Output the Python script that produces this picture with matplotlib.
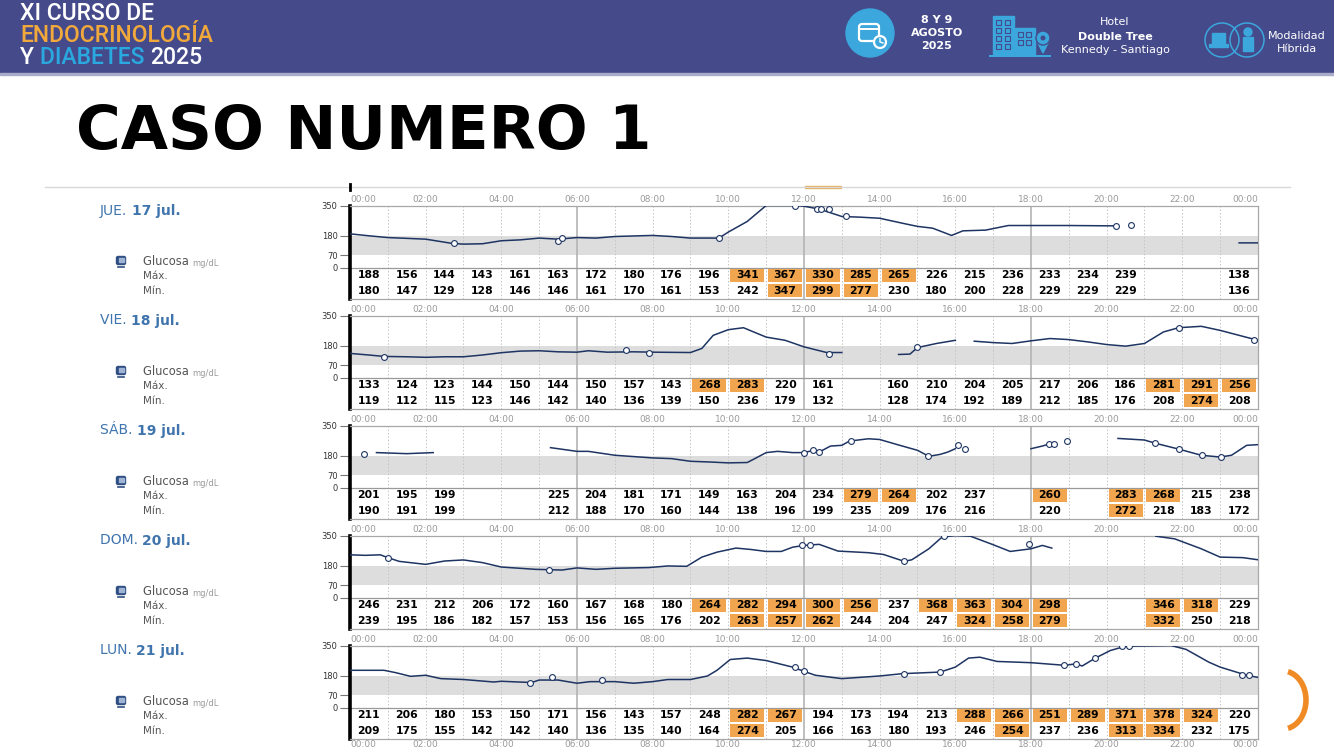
import numpy as np
import matplotlib
matplotlib.use("Agg")
import matplotlib.pyplot as plt
from matplotlib.patches import Rectangle, Circle, FancyBboxPatch, Arc, Polygon

nan = np.nan

# ---- data -------------------------------------------------------------------
days = ["JUE.", "VIE.", "SÁB.", "DOM.", "LUN."]
dates = ["17 jul.", "18 jul.", "19 jul.", "20 jul.", "21 jul."]
hour_labels = ["00:00", "02:00", "04:00", "06:00", "08:00", "10:00",
               "12:00", "14:00", "16:00", "18:00", "20:00", "22:00", "00:00"]
y_ticks = [0, 70, 180, 350]

jue_max = [188, 156, 144, 143, 161, 163, 172, 180, 176, 196, 341, 367,
           330, 285, 265, 226, 215, 236, 233, 234, 239, None, None, 138]
jue_min = [180, 147, 129, 128, 146, 146, 161, 170, 161, 153, 242, 347,
           299, 277, 230, 180, 200, 228, 229, 229, 229, None, None, 136]
vie_max = [133, 124, 123, 144, 150, 144, 150, 157, 143, 268, 283, 220,
           161, None, 160, 210, 204, 205, 217, 206, 186, 281, 291, 256]
vie_min = [119, 112, 115, 123, 146, 142, 140, 136, 139, 150, 236, 179,
           132, None, 128, 174, 192, 189, 212, 185, 176, 208, 274, 208]
sab_max = [201, 195, 199, None, None, 225, 204, 181, 171, 149, 163, 204,
           234, 279, 264, 202, 237, None, 260, None, 283, 268, 215, 238]
sab_min = [190, 191, 199, None, None, 212, 188, 170, 160, 144, 138, 196,
           199, 235, 209, 176, 216, None, 220, None, 272, 218, 183, 172]
dom_max = [246, 231, 212, 206, 172, 160, 167, 168, 180, 264, 282, 294,
           300, 256, 237, 368, 363, 304, 298, None, None, 346, 318, 229]
dom_min = [239, 195, 186, 182, 157, 153, 156, 165, 176, 202, 263, 257,
           262, 244, 204, 247, 324, 258, 279, None, None, 332, 250, 218]
lun_max = [211, 206, 180, 153, 150, 171, 156, 143, 157, 248, 282, 267,
           194, 173, 194, 213, 288, 266, 251, 289, 371, 378, 324, 220]
lun_min = [209, 175, 155, 142, 142, 140, 136, 135, 140, 164, 274, 205,
           166, 163, 180, 193, 246, 254, 237, 236, 313, 334, 232, 175]

# CGM traces (hour of day, mg/dL), nan = sensor gap
jue_h = [0, 0.5, 1, 2, 2.7, 3, 3.5, 4, 4.5, 5, 5.5, 6, 6.5, 7, 8, 8.5, 9, 9.75,
         10, 10.5, 11, 11.8, 12, 12.4, 13, 13.5, 14, 14.6, 15, 15.4, 15.9,
         16.2, 16.8, 17.4, 18, 19, 20.25, 20.3, 23.5, 24]
jue_v = [190, 179, 169, 160, 136, 132, 134, 151, 156, 166, 160, 169, 166, 175,
         181, 175, 166, 166, 200, 260, 350, 350, 346, 330, 288, 284, 278, 250,
         232, 222, 181, 207, 211, 237, 237, 237, 235, nan, 139, 139]
vie_h = [0, 0.5, 0.9, 1.5, 2, 2.5, 3, 3.5, 4, 4.5, 5, 5.5, 6, 6.3, 6.8, 7.5, 8,
         9, 9.3, 9.6, 10, 10.4, 11, 11.5, 12, 12.6, 13, 13.5, 14.5, 14.8, 15,
         15.5, 16, 16.2, 16.5, 17, 17.5, 18, 18.5, 19, 19.5, 20, 20.5, 21,
         21.5, 21.9, 22.5, 23, 23.5, 24]
vie_v = [136, 127, 119, 117, 114, 117, 117, 127, 140, 149, 151, 145, 143, 151,
         143, 145, 143, 141, 164, 238, 270, 281, 228, 210, 173, 141, 141, nan,
         130, 132, 169, 192, 210, nan, 205, 197, 192, 207, 220, 214, 201, 186,
         177, 192, 257, 281, 289, 266, 238, 210]
sab_h = [0.7, 1.5, 2.2, 3, 5.3, 6, 6.3, 7, 8, 8.5, 9, 9.5, 10, 10.5, 10.7, 11,
         11.3, 11.7, 12, 12.3, 12.4, 12.7, 13, 13.2, 13.7, 14, 14.5, 15, 15.3,
         15.6, 15.8, 16, 17, 18, 18.3, 18.5, 19.5, 20.3, 21, 21.3, 21.9, 22.5,
         23, 23.3, 23.7, 24]
sab_v = [197, 191, 197, nan, 225, 204, 204, 182, 167, 163, 148, 144, 139, 141,
         163, 197, 204, 197, 197, 212, 200, 234, 238, 262, 275, 271, 240, 210,
         176, 187, 200, 219, nan, 219, 234, 247, nan, 277, 268, 249, 217, 182,
         172, 182, 238, 242]
dom_h = [0, 0.4, 0.8, 1.0, 1.3, 2, 2.5, 3, 3.5, 4, 4.9, 5.6, 6, 6.5, 7, 7.9,
         8.4, 8.9, 9.3, 9.7, 10.2, 10.6, 11, 11.4, 11.7, 12, 12.4, 12.9, 13.7,
         14.1, 14.65, 14.85, 15.3, 15.65, 16, 16.4, 17, 17.45, 18, 18.3, 18.55,
         20, 21.3, 21.8, 22.5, 23, 23.6, 24]
dom_v = [241, 238, 241, 225, 204, 187, 206, 212, 197, 172, 159, 155, 167, 159,
         165, 169, 178, 176, 228, 256, 279, 271, 260, 260, 284, 294, 300, 262,
         253, 243, 204, 213, 275, 341, 350, 346, 298, 260, 275, 294, 279, nan,
         346, 331, 275, 228, 225, 213]
lun_h = [0, 0.9, 1.2, 1.6, 2, 2.4, 3, 3.8, 4, 4.8, 5.0, 5.5, 6, 6.35, 6.7, 7,
         7.5, 8, 8.4, 9, 9.45, 9.7, 10.05, 10.5, 11, 11.7, 12, 12.3, 13, 14,
         14.6, 15.6, 16, 16.35, 16.65, 17.1, 18, 18.9, 19.2, 19.35, 19.7, 20.1,
         20.5, 21.7, 22.1, 22.7, 23, 23.7, 24]
lun_v = [210, 210, 197, 176, 182, 163, 158, 144, 148, 141, 155, 155, 137, 146,
         146, 146, 137, 146, 158, 158, 178, 210, 271, 279, 265, 228, 204, 182,
         163, 178, 191, 200, 228, 279, 284, 260, 253, 238, 247, 234, 279, 322,
         346, 350, 328, 256, 228, 182, 170]

# sensor scan markers
jue_mh = [2.75, 5.5, 5.6, 9.75, 11.75, 12.35, 12.45, 12.65, 13.1, 20.25, 20.65]
jue_mv = [136, 151, 166, 166, 350, 330, 330, 330, 288, 235, 241]
vie_mh = [0.9, 7.3, 7.9, 12.65, 15.0, 21.9, 23.9]
vie_mv = [117, 158, 136, 132, 173, 281, 210]
sab_mh = [0.38, 12.0, 12.25, 12.4, 13.23, 15.28, 16.06, 16.25, 18.48, 18.6,
          18.95, 21.27, 21.9, 22.53, 23.03]
sab_mv = [187, 197, 212, 200, 262, 176, 238, 217, 247, 243, 264, 249, 217,
          182, 172]
dom_mh = [1.0, 5.25, 11.95, 12.15, 14.63, 15.7, 17.95]
dom_mv = [225, 155, 294, 294, 204, 346, 303]
lun_mh = [4.76, 5.35, 6.66, 11.75, 12.0, 14.63, 15.6, 18.88, 19.2, 19.7, 20.4,
          20.6, 23.57, 23.75]
lun_mv = [141, 170, 157, 228, 204, 191, 200, 238, 247, 279, 346, 350, 182, 182]

HIGH = 250  # cells above this are shaded orange

W, H = 1334, 750
NAVY = "#1e3462"
ORANGE = "#f0a54e"
BANNER = "#454a8a"
LIGHT_BLUE = "#3ba7dd"


def draw_banner(cv):
    cv.add_patch(Rectangle((0, 0), W, 73, color=BANNER, zorder=1))
    cv.add_patch(Rectangle((0, 73), W, 2, color="#a9acc8", zorder=1))
    font = dict(family=["Roboto", "DejaVu Sans"], fontsize=16.5,
                fontweight="medium", zorder=3)
    cv.text(20, 13.5, "XI CURSO DE", color="white", va="center", **font)
    cv.text(20, 35.5, "ENDOCRINOLOGÍA", color="#f2a93b", va="center", **font)
    t = cv.text(20, 57.5, "Y ", color="white", va="center", **font)
    t = cv.annotate("DIABETES ", xy=(1, 0), xycoords=t, color="#2aa9e0",
                    va="bottom", ha="left", **font)
    cv.annotate("2025", xy=(1, 0), xycoords=t, color="white",
                va="bottom", ha="left", **font)

    # calendar
    cv.add_patch(Circle((870, 33), 24, color=LIGHT_BLUE, zorder=2))
    cv.add_patch(FancyBboxPatch((859, 24), 20, 17, boxstyle="round,pad=0,rounding_size=3",
                                fill=False, ec="white", lw=1.6, zorder=3))
    cv.plot([859, 879], [29, 29], color="white", lw=1.4, zorder=3)
    cv.add_patch(Circle((880, 42), 6, fc=LIGHT_BLUE, ec="white", lw=1.6, zorder=4))
    cv.plot([880, 880, 883], [38.5, 42, 43], color="white", lw=1.0, zorder=5)
    small = dict(family=["DejaVu Sans"], color="white", ha="center",
                 va="center", zorder=3)
    cv.text(937, 20, "8 Y 9", fontsize=8, fontweight="bold", **small)
    cv.text(937, 33, "AGOSTO", fontsize=8, fontweight="bold", **small)
    cv.text(937, 46, "2025", fontsize=8, fontweight="bold", **small)

    # hotel
    cv.add_patch(Rectangle((993, 16), 21, 38, color=LIGHT_BLUE, zorder=2))
    cv.add_patch(Rectangle((1015, 28), 20, 26, color=LIGHT_BLUE, zorder=2))
    for wx in (996, 1005):
        for wy in (20, 28, 36, 44):
            cv.add_patch(Rectangle((wx, wy), 5, 5, fc="none", ec=BANNER, lw=0.8, zorder=3))
    for wx in (1018, 1026):
        for wy in (32, 40):
            cv.add_patch(Rectangle((wx, wy), 5, 5, fc="none", ec=BANNER, lw=0.8, zorder=3))
    cv.add_patch(Circle((1043, 38), 7, fc=LIGHT_BLUE, ec=BANNER, lw=1, zorder=4))
    cv.add_patch(Circle((1043, 38), 2.5, fc=BANNER, zorder=5))
    cv.add_patch(Polygon([[1037, 41], [1049, 41], [1043, 53]], color=LIGHT_BLUE, zorder=3))
    cv.plot([990, 1050], [55.5, 55.5], color=LIGHT_BLUE, lw=1.5, zorder=3)
    cv.text(1115, 22, "Hotel", fontsize=8, **small)
    cv.text(1115, 36.5, "Double Tree", fontsize=8, fontweight="bold", **small)
    cv.text(1115, 50, "Kennedy - Santiago", fontsize=8, **small)

    # hybrid mode
    cv.add_patch(Circle((1222, 40), 17, fill=False, ec=LIGHT_BLUE, lw=1.1, zorder=3))
    cv.add_patch(Circle((1247, 40), 17, fill=False, ec=LIGHT_BLUE, lw=1.1, zorder=3))
    cv.add_patch(Rectangle((1212, 33), 13, 10, color=LIGHT_BLUE, zorder=3))
    cv.add_patch(Rectangle((1209, 44), 19, 2.5, color=LIGHT_BLUE, zorder=3))
    cv.add_patch(Circle((1248, 32), 4, color=LIGHT_BLUE, zorder=3))
    cv.add_patch(Rectangle((1243, 37), 10, 14, color=LIGHT_BLUE, zorder=3))
    cv.text(1297, 36, "Modalidad", fontsize=8, **small)
    cv.text(1297, 49, "Híbrida", fontsize=8, **small)


def draw_panel(fig, cv, top, day, date, vmax, vmin, th, tv, mh, mv):
    left, right = 350, 1258
    ax = fig.add_axes([left / W, 1 - (top + 93) / H, (right - left) / W, 93 / H])
    ax.set_xlim(0, 24)
    ax.set_ylim(-175, 350)
    ax.axhspan(70, 180, color="#dddddd", lw=0, zorder=0)
    for h in range(1, 24):
        if h % 6 == 0:
            ax.axvline(h, color="#b4b4b4", lw=1.2, zorder=1)
        else:
            ax.axvline(h, color="#c4c4c4", lw=0.7, ls=(0, (1.5, 2)), zorder=1)
    ax.axhline(0, color="#9a9a9a", lw=0.9, zorder=2)

    ax.plot(th, tv, color=NAVY, lw=1.1, zorder=4)
    ax.plot(mh, mv, "o", ms=4.2, mfc="white", mec=NAVY, mew=0.8, zorder=5)

    for i, (a, b) in enumerate(zip(vmax, vmin)):
        for val, yc, y0 in ((a, -44, -82), (b, -131, -168)):
            if val is None:
                continue
            if val > HIGH:
                ax.add_patch(Rectangle((i + 0.05, y0), 0.9, 74, color=ORANGE,
                                       lw=0, zorder=2))
            ax.text(i + 0.5, yc, str(val), ha="center", va="center",
                    fontsize=7.8, fontweight="bold", color="black", zorder=3)

    for sp in ("top", "right", "bottom"):
        ax.spines[sp].set_color("#a8a8a8")
        ax.spines[sp].set_linewidth(0.9)
    ax.spines["left"].set_color("black")
    ax.spines["left"].set_linewidth(2.6)
    ax.set_xticks([])
    ax.set_yticks(y_ticks)
    ax.set_yticklabels([str(t) for t in y_ticks], fontsize=6, color="#333333")
    ax.tick_params(axis="y", length=7, width=0.8, color="#777777", pad=2)

    for k, lab in enumerate(hour_labels):
        ha = "left" if k == 0 else ("right" if k == len(hour_labels) - 1 else "center")
        ax.text(2 * k, 385, lab, ha=ha, va="center", fontsize=6.5,
                color="#9a9a9a", clip_on=False)

    # left column texts
    t = cv.text(100, top + 5, day + " ", fontsize=10, color="#3f74ad",
                va="center", ha="left")
    cv.annotate(date, xy=(1, 0), xycoords=t, fontsize=10, color="#3f74ad",
                fontweight="bold", va="bottom", ha="left")
    cv.add_patch(FancyBboxPatch((116.5, top + 51), 9, 8,
                                boxstyle="round,pad=0,rounding_size=1.5",
                                fc="#2f4f82", ec="#2f4f82", lw=1, zorder=3))
    cv.add_patch(Rectangle((118.5, top + 52.5), 5, 4, color="#9fb4d4", zorder=4))
    cv.plot([118, 124], [top + 61, top + 61], color="#2f4f82", lw=1.2, zorder=3)
    g = cv.text(143, top + 56, "Glucosa ", fontsize=8.3, color="#555555",
                va="center", ha="left")
    cv.annotate("mg/dL", xy=(1, 0), xycoords=g, fontsize=6, color="#9a9a9a",
                va="bottom", ha="left")
    cv.text(143, top + 70.5, "Máx.", fontsize=7.5, color="#555555", va="center")
    cv.text(143, top + 85.5, "Mín.", fontsize=7.5, color="#555555", va="center")
    return ax


def main():
    fig = plt.figure(figsize=(W / 100, H / 100), dpi=100)
    cv = fig.add_axes([0, 0, 1, 1])
    cv.set_xlim(0, W)
    cv.set_ylim(H, 0)
    cv.axis("off")

    draw_banner(cv)
    cv.text(76, 133, "CASO NUMERO 1", fontsize=44, fontweight="bold",
            color="black", va="center", ha="left")

    # edge of the pasted screenshot
    cv.plot([45, 1290], [187, 187], color="#d8d8d8", lw=1)
    cv.plot([350, 350], [184, 190], color="black", lw=2)
    cv.add_patch(Rectangle((805, 185.5), 36, 2, color="#e8b060"))

    tables = [(jue_max, jue_min, jue_h, jue_v, jue_mh, jue_mv),
              (vie_max, vie_min, vie_h, vie_v, vie_mh, vie_mv),
              (sab_max, sab_min, sab_h, sab_v, sab_mh, sab_mv),
              (dom_max, dom_min, dom_h, dom_v, dom_mh, dom_mv),
              (lun_max, lun_min, lun_h, lun_v, lun_mh, lun_mv)]
    for i, (vmax, vmin, th, tv, mh, mv) in enumerate(tables):
        draw_panel(fig, cv, 205.5 + 110 * i, days[i], dates[i],
                   vmax, vmin, th, tv, mh, mv)

    # hour labels of the next day, just peeking in at the bottom
    for k, lab in enumerate(hour_labels):
        x = 350 + 908 * k / 12
        ha = "left" if k == 0 else ("right" if k == 12 else "center")
        cv.text(x, 744.5, lab, ha=ha, va="center", fontsize=6.5, color="#9a9a9a")

    # corner logo
    cv.add_patch(Arc((1283, 700), 46, 58, theta1=-80, theta2=80,
                     color="#f08a24", lw=4))

    fig.savefig("out.png", dpi=100)
    plt.close(fig)


if __name__ == "__main__":
    main()
